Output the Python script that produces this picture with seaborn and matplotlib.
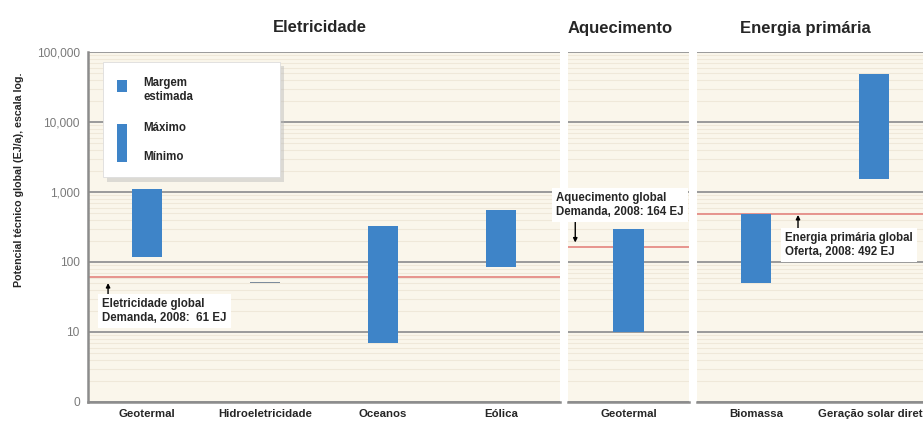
import numpy as np
import pandas as pd
import matplotlib
matplotlib.use("Agg")
import matplotlib.pyplot as plt
import seaborn as sns
from matplotlib.patches import FancyBboxPatch, Rectangle
from matplotlib.ticker import FixedLocator, FixedFormatter, LogLocator, NullFormatter

# dados (EJ/a)
paineis = ["Eletricidade", "Eletricidade", "Eletricidade", "Eletricidade",
           "Aquecimento", "Energia primária", "Energia primária"]
categorias = ["Geotermal", "Hidroeletricidade", "Oceanos", "Eólica",
              "Geotermal", "Biomassa", "Geração solar direta"]
minimo = [118, 50, 7, 85, 10, 50, 1550]
maximo = [1100, 52, 331, 556, 296, 485, 48000]

titulos = ["Eletricidade", "Aquecimento", "Energia primária"]
demanda = [61, 164, 492]
demanda_txt = ["Eletricidade global\nDemanda, 2008:  61 EJ",
               "Aquecimento global\nDemanda, 2008: 164 EJ",
               "Energia primária global\nOferta, 2008: 492 EJ"]

yticks = [1, 10, 100, 1000, 10000, 100000]
ylabels = ["0", "10", "100", "1,000", "10,000", "100,000"]

df = pd.DataFrame({"painel": paineis, "categoria": categorias,
                   "min": minimo, "max": maximo})
df["altura"] = df["max"] - df["min"]

sns.set_style("white")
plt.rcParams["font.family"] = ["Liberation Sans", "DejaVu Sans"]

azul = "#3E84C8"
fundo = "#FAF6EB"
cinza = "#9A9A9A"
vermelho = "#E58C86"

W, H = 923, 421
fig = plt.figure(figsize=(W / 100, H / 100), dpi=100)


def caixa(x0, y0, x1, y1):
    return [x0 / W, 1 - y1 / H, (x1 - x0) / W, (y1 - y0) / H]


def fx(x):
    return x / W


def fy(y):
    return 1 - y / H


posicoes = [caixa(88, 52, 560, 402), caixa(568, 52, 689, 402), caixa(697, 52, 933, 402)]
eixos = []

for i, titulo in enumerate(titulos):
    ax = fig.add_axes(posicoes[i])
    eixos.append(ax)
    ax.set_facecolor(fundo)
    ax.set_yscale("log")
    sub = df[df.painel == titulo].reset_index(drop=True)
    sns.barplot(data=sub, x="categoria", y="altura", color=azul,
                bottom=sub["min"].values, width=0.25, saturation=1,
                errorbar=None, ax=ax, zorder=2, linewidth=0)
    for barra, cat in zip(ax.patches, sub.categoria):
        if cat == "Hidroeletricidade":
            barra.set_facecolor("#7D8C9C")
    n = len(sub)
    ax.set_xlim(-0.5, n - 0.5)
    ax.set_ylim(1, 100000)
    ax.set_xlabel("")
    ax.set_ylabel("")

    ax.axhline(demanda[i], color=vermelho, lw=1.3, zorder=1)

    ax.yaxis.set_major_locator(FixedLocator(yticks))
    ax.yaxis.set_minor_locator(LogLocator(base=10, subs=np.arange(2, 10)))
    ax.yaxis.set_minor_formatter(NullFormatter())
    ax.set_axisbelow(True)
    ax.grid(which="major", axis="y", color=cinza, lw=1.4)
    ax.grid(which="minor", axis="y", color="#EFE8D9", lw=0.8)

    for s in ["top", "right"]:
        ax.spines[s].set_visible(False)
    ax.spines["bottom"].set_color("#8C8C8C")
    ax.spines["bottom"].set_linewidth(1.8)

    ax.set_xticks(range(n))
    ax.set_xticklabels(sub.categoria, fontsize=8.2, fontweight="bold")
    ax.tick_params(axis="x", which="major", length=0, pad=5)
    ax.set_xticks(np.arange(0.5, n - 0.5), minor=True)
    ax.tick_params(axis="x", which="minor", length=3, width=1, color="#8C8C8C")

    if i == 0:
        ax.spines["left"].set_color("#8C8C8C")
        ax.spines["left"].set_linewidth(1.8)
        ax.yaxis.set_major_formatter(FixedFormatter(ylabels))
        ax.tick_params(axis="y", which="major", length=4, width=1.2, color=cinza,
                       labelsize=8.6, labelcolor="#7A7A7A", pad=2)
        ax.tick_params(axis="y", which="minor", length=0)
    else:
        ax.spines["left"].set_visible(False)
        ax.tick_params(axis="y", which="both", length=0, labelleft=False)

# títulos dos painéis
for titulo, xc in zip(titulos, [320, 620, 805]):
    fig.text(fx(xc), fy(28), titulo, ha="center", va="center",
             fontsize=12, fontweight="bold")

fig.text(fx(19), fy(180), "Potencial técnico global (EJ/a), escala log.",
         rotation=90, ha="center", va="center", fontsize=7.7, fontweight="bold")

# legenda
ax1 = eixos[0]
t = ax1.transAxes
sombra = FancyBboxPatch((0.040, 0.630), 0.375, 0.330, boxstyle="square,pad=0",
                        transform=t, fc="#B8B8B8", ec="none", alpha=0.45, zorder=5)
ax1.add_patch(sombra)
quadro = FancyBboxPatch((0.032, 0.643), 0.375, 0.328, boxstyle="square,pad=0",
                        transform=t, fc="white", ec="#DDDDDD", lw=0.6, zorder=6)
ax1.add_patch(quadro)
ax1.add_patch(Rectangle((0.061, 0.886), 0.022, 0.034, transform=t, fc=azul, ec="none", zorder=7))
ax1.add_patch(Rectangle((0.061, 0.686), 0.022, 0.108, transform=t, fc=azul, ec="none", zorder=7))
ax1.text(0.117, 0.892, "Margem\nestimada", transform=t, fontsize=8.3, fontweight="bold",
         va="center", ha="left", linespacing=1.25, zorder=8)
ax1.text(0.117, 0.783, "Máximo", transform=t, fontsize=8.3, fontweight="bold",
         va="center", ha="left", zorder=8)
ax1.text(0.117, 0.700, "Mínimo", transform=t, fontsize=8.3, fontweight="bold",
         va="center", ha="left", zorder=8)

# setas e textos de demanda
setas = [(eixos[0], -0.33, 50, 30), (eixos[1], -0.44, 190, 370), (eixos[2], 0.356, 470, 305)]
for ax, xs, ponta, cauda in setas:
    ax.annotate("", xy=(xs, ponta), xytext=(xs, cauda),
                arrowprops=dict(arrowstyle="-|>", color="black", lw=1.0,
                                mutation_scale=6, shrinkA=0, shrinkB=0), zorder=9)

caixa_txt = dict(fc="white", ec="none", boxstyle="square,pad=0.35")
fig.text(fx(102), fy(311), demanda_txt[0], ha="left", va="center", fontsize=8.3,
         fontweight="bold", linespacing=1.25, bbox=caixa_txt, zorder=10)
fig.text(fx(556), fy(205), demanda_txt[1], ha="left", va="center", fontsize=8.3,
         fontweight="bold", linespacing=1.25, bbox=caixa_txt, zorder=10)
fig.text(fx(785), fy(245), demanda_txt[2], ha="left", va="center", fontsize=8.3,
         fontweight="bold", linespacing=1.25, bbox=caixa_txt, zorder=10)

fig.savefig("out.png", dpi=100, facecolor="white")
